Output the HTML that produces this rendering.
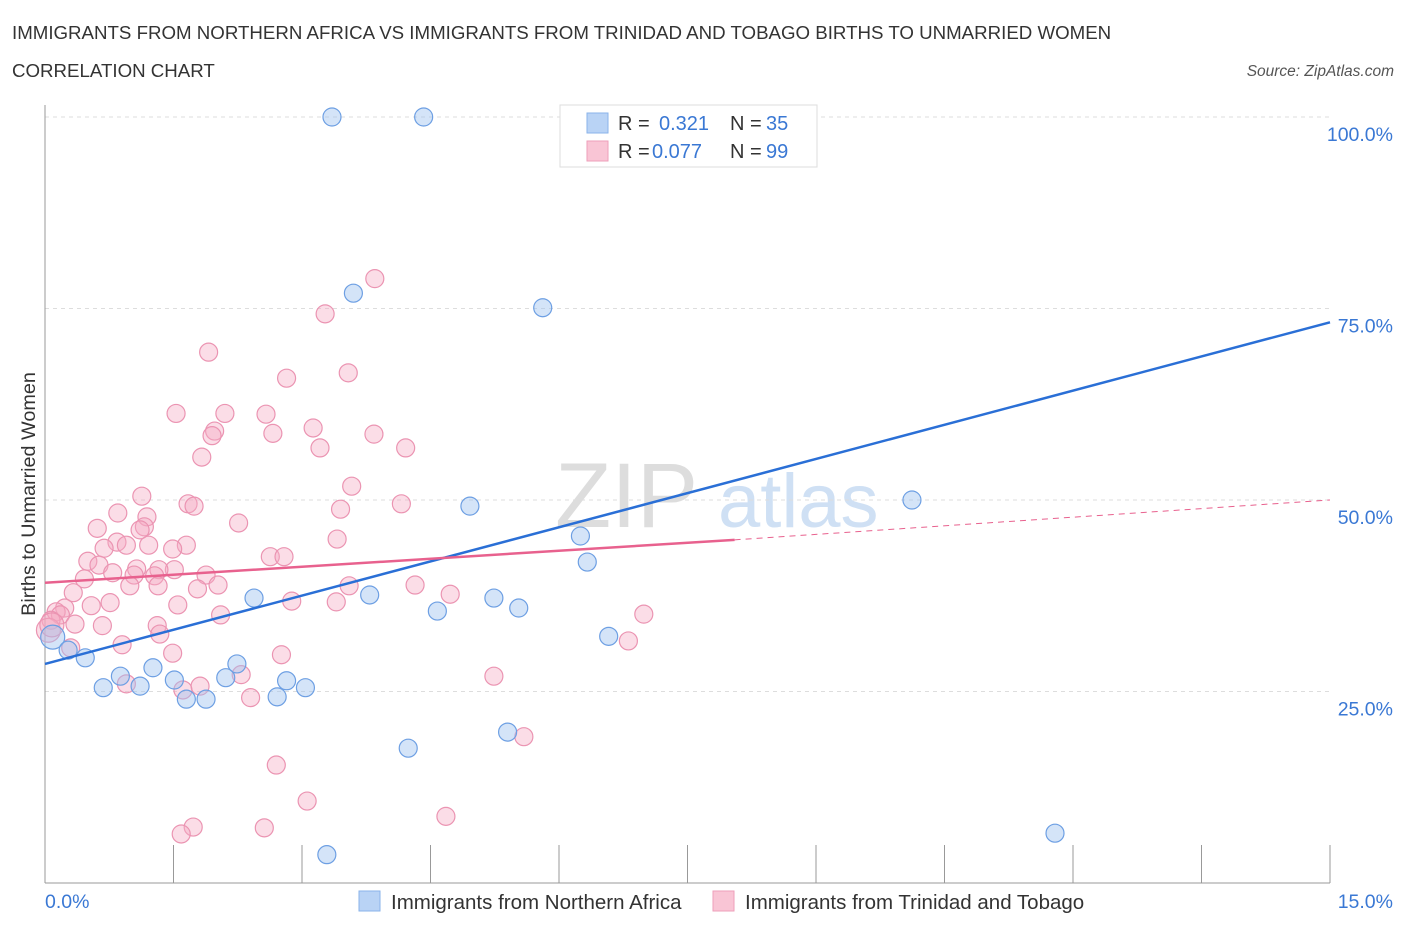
<!DOCTYPE html>
<html><head><meta charset="utf-8"><style>
body{margin:0;background:#fff;font-family:"Liberation Sans",sans-serif;}
svg text{font-family:"Liberation Sans",sans-serif;}
</style></head><body>
<svg id="chart" width="1406" height="930">
<text x="12" y="39" font-size="18.7" fill="#333">IMMIGRANTS FROM NORTHERN AFRICA VS IMMIGRANTS FROM TRINIDAD AND TOBAGO BIRTHS TO UNMARRIED WOMEN</text>
<text x="12" y="77" font-size="18.7" fill="#333">CORRELATION CHART</text>
<text x="1394" y="76" font-size="15.5" fill="#555" font-style="italic" text-anchor="end">Source: ZipAtlas.com</text>
<g><text x="555" y="527" font-size="92" fill="#ddd" font-family="Liberation Serif">ZIP</text><text x="718" y="527" font-size="76" fill="#cfe0f4">atlas</text></g>
<g id="grid"></g><g id="marks"></g>
<text transform="translate(35,494) rotate(-90)" font-size="19.8" fill="#333" text-anchor="middle">Births to Unmarried Women</text>
<g>
<rect x="560" y="105" width="257" height="62" fill="#fff" stroke="#ddd"/>
<rect x="587" y="113" width="21" height="20" fill="#b9d3f5" stroke="#8ab3ea"/>
<rect x="587" y="141" width="21" height="20" fill="#f9c5d5" stroke="#ee9fba"/>
<text x="618" y="130" font-size="20" fill="#333">R = </text><text x="659" y="130" font-size="20" fill="#3a78d4">0.321</text>
<text x="730" y="130" font-size="20" fill="#333">N = </text><text x="766" y="130" font-size="20" fill="#3a78d4">35</text>
<text x="618" y="158" font-size="20" fill="#333">R = </text><text x="652" y="158" font-size="20" fill="#3a78d4">0.077</text>
<text x="730" y="158" font-size="20" fill="#333">N = </text><text x="766" y="158" font-size="20" fill="#3a78d4">99</text>
</g>
<g>
<rect x="359" y="891" width="21" height="20" fill="#b9d3f5" stroke="#8ab3ea"/>
<text x="391" y="909" font-size="20.5" fill="#333">Immigrants from Northern Africa</text>
<rect x="713" y="891" width="21" height="20" fill="#f9c5d5" stroke="#ee9fba"/>
<text x="745" y="909" font-size="20.5" fill="#333">Immigrants from Trinidad and Tobago</text>
</g>
<text x="45" y="908" font-size="19.5" fill="#3a78d4">0.0%</text>
<text x="1393" y="908" font-size="19.5" fill="#3a78d4" text-anchor="end">15.0%</text>
</svg>
<script>
const yTicks=[100,75,50,25];
const xTicks=[0,1.5,3,4.5,6,7.5,9,10.5,12,13.5,15];
const blueX=[3.35,4.42,7.90,8.72,3.60,5.81,10.12,4.96,6.25,6.33,3.79,2.44,4.58,5.24,5.53,6.58,0.09,0.27,0.47,2.24,1.26,0.88,1.51,2.11,2.82,0.68,1.11,3.04,1.65,1.88,2.71,5.40,4.24,11.79,3.29];
const blueY=[100,100,100,100,77.0,75.1,50.0,49.2,45.3,41.9,37.6,37.2,35.5,37.2,35.9,32.2,32.1,30.4,29.4,28.6,28.1,27.0,26.5,26.8,26.4,25.5,25.7,25.5,24.0,24.0,24.3,19.7,17.6,6.5,3.7];
const pinkX=[3.85,3.27,1.91,2.82,3.54,1.53,2.10,2.58,3.13,1.98,1.95,2.66,3.84,3.21,4.21,1.83,3.58,1.13,1.67,1.74,4.16,3.45,0.85,1.19,2.26,0.61,1.16,1.11,0.84,0.95,1.21,1.65,3.41,0.69,1.49,2.63,2.79,0.50,0.63,1.07,1.51,1.33,0.79,1.04,1.28,1.88,0.46,0.99,1.32,1.78,2.02,3.55,4.32,0.33,4.73,0.54,0.76,1.55,2.88,3.40,0.23,0.13,0.18,0.07,0.35,0.67,2.05,6.99,1.31,1.34,0.90,6.81,0.30,1.49,2.76,2.29,5.24,0.95,1.81,1.61,2.40,5.59,2.70,3.06,4.68,1.73,1.59,2.56,0.04,0.08];
const pinkY=[78.9,74.3,69.3,65.9,66.6,61.3,61.3,61.2,59.4,59.0,58.4,58.7,58.6,56.8,56.8,55.6,51.8,50.5,49.5,49.2,49.5,48.8,48.3,47.8,47.0,46.3,46.5,46.1,44.5,44.1,44.1,44.1,44.9,43.7,43.6,42.6,42.6,42.0,41.5,41.0,40.9,40.9,40.5,40.2,40.1,40.2,39.7,38.8,38.8,38.4,38.9,38.8,38.9,37.9,37.7,36.2,36.6,36.3,36.8,36.7,35.9,35.4,35.0,34.3,33.8,33.6,35.0,35.1,33.6,32.5,31.1,31.6,30.7,30.0,29.8,27.2,27.0,26.0,25.7,25.2,24.2,19.1,15.4,10.7,8.7,7.3,6.4,7.2,33.0,33.7];
const blueLine=[28.6,73.2];
const pinkLine=[39.2,44.8,50.0];
const pinkSolidEnd=8.05;
const X=v=>45+v/15*1285, Y=v=>883-v*7.66;
const NS='http://www.w3.org/2000/svg';
function mk(t,a,p){const e=document.createElementNS(NS,t);for(const k in a)e.setAttribute(k,a[k]);p.appendChild(e);return e;}
const grid=document.getElementById('grid'), marks=document.getElementById('marks');
yTicks.forEach(v=>{
 const l=mk('line',{x1:45,x2:1330,y1:Y(v),y2:Y(v),stroke:'#ddd','stroke-dasharray':'4 4'},grid);
 
 
 const t=mk('text',{x:1393,y:Y(v)+24,'font-size':19.5,fill:'#3a78d4','text-anchor':'end'},grid);
 t.textContent=v.toFixed(1)+'%';
 
 
});
const ax=mk('line',{x1:45,x2:45,y1:105,y2:883,stroke:'#999'},grid);


const bx=mk('line',{x1:45,x2:1330,y1:883,y2:883,stroke:'#999'},grid);


xTicks.forEach(v=>{
 const l=mk('line',{x1:X(v),x2:X(v),y1:845,y2:883,stroke:'#999'},grid);
 
 
});
pinkX.forEach((v,i)=>{
 const c=mk('circle',{cx:X(v),cy:Y(pinkY[i]),r:(i>=88?12:9),fill:'rgba(246,170,196,0.4)',stroke:'#eb94b2','stroke-width':1.2},marks);
 
 
});
blueX.forEach((v,i)=>{
 const c=mk('circle',{cx:X(v),cy:Y(blueY[i]),r:(i==16?12:9),fill:'rgba(160,196,240,0.45)',stroke:'#6d9fe3','stroke-width':1.2},marks);
 
 
});
const bl=mk('line',{x1:X(0),y1:Y(blueLine[0]),x2:X(15),y2:Y(blueLine[1]),stroke:'#2a6fd6','stroke-width':2.5},marks);


const pl=mk('line',{x1:X(0),y1:Y(pinkLine[0]),x2:X(pinkSolidEnd),y2:Y(pinkLine[1]),stroke:'#e8618e','stroke-width':2.5},marks);


const pd=mk('line',{x1:X(pinkSolidEnd),y1:Y(pinkLine[1]),x2:X(15),y2:Y(pinkLine[2]),stroke:'#e8618e','stroke-width':1,'stroke-dasharray':'6 5'},marks);


</script>
</body></html>
